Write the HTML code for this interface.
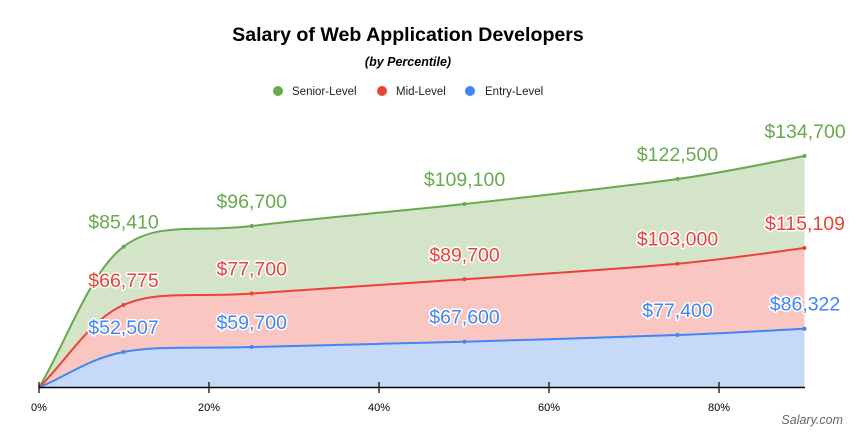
<!DOCTYPE html>
<html><head><meta charset="utf-8"><style>
body{margin:0;background:#fff;}
svg{display:block;font-family:"Liberation Sans",Arial,sans-serif;}
.lb{font-size:19.5px;text-anchor:middle;paint-order:stroke;stroke:#fff;stroke-width:3px;stroke-linejoin:round;}
</style></head><body>
<svg id="s" width="861" height="432" viewBox="0 0 861 432">
<rect width="861" height="432" fill="#fff"/>
<text x="408" y="41" font-size="19.6" font-weight="bold" text-anchor="middle" fill="#000">Salary of Web Application Developers</text>
<text x="408" y="66" font-size="12.5" font-weight="bold" font-style="italic" text-anchor="middle" fill="#000">(by Percentile)</text>
<circle cx="278" cy="91" r="5" fill="#6aa84f"/><text x="292" y="95" font-size="11.5" fill="#222">Senior-Level</text>
<circle cx="382" cy="91" r="5" fill="#ea4335"/><text x="396" y="95" font-size="11.5" fill="#222">Mid-Level</text>
<circle cx="470" cy="91" r="5" fill="#4285f4"/><text x="485" y="95" font-size="11.5" fill="#222">Entry-Level</text>
<g id="areas"></g>
<line x1="39" y1="387.5" x2="805" y2="387.5" stroke="#000" stroke-width="1.5"/>
<g stroke="#000" stroke-width="1.2">
<line x1="39" y1="382" x2="39" y2="393"/><line x1="209" y1="382" x2="209" y2="393"/><line x1="379" y1="382" x2="379" y2="393"/><line x1="549" y1="382" x2="549" y2="393"/><line x1="719" y1="382" x2="719" y2="393"/></g>
<g font-size="11" text-anchor="middle" fill="#000">
<text x="39" y="411">0%</text><text x="209" y="411">20%</text><text x="379" y="411">40%</text><text x="549" y="411">60%</text><text x="719" y="411">80%</text></g>
<text x="843" y="424" font-size="12.5" font-style="italic" text-anchor="end" fill="#666">Salary.com</text>
<g id="labels"></g>
</svg>
<script>
var X=[39,123.5,251.7,464.5,677.5,804.5];
var S=[
 {y:[387.5,246.7,226,204,179,156],c:"#6aa84f",f:"#d3e4c8",v:["$85,410","$96,700","$109,100","$122,500","$134,700"]},
 {y:[387.5,305,293.5,279.3,263.7,248],c:"#ea4335",f:"#f9c6c1",v:["$66,775","$77,700","$89,700","$103,000","$115,109"]},
 {y:[387.5,352,347,341.7,335,328.7],c:"#4285f4",f:"#c6d9f8",v:["$52,507","$59,700","$67,600","$77,400","$86,322"]}
];
function path(ys){
 var d="M"+X[0]+","+ys[0];
 for(var i=0;i<X.length-1;i++){
  var p0=[X[Math.max(i-1,0)],ys[Math.max(i-1,0)]],p1=[X[i],ys[i]],p2=[X[i+1],ys[i+1]],p3=[X[Math.min(i+2,X.length-1)],ys[Math.min(i+2,X.length-1)]];
  var t=0.16;
  var c1=[p1[0]+(p2[0]-p0[0])*t,p1[1]+(p2[1]-p0[1])*t];
  var c2=[p2[0]-(p3[0]-p1[0])*t,p2[1]-(p3[1]-p1[1])*t];
  if(i==0){c1=[p1[0]+(p2[0]-p1[0])*0.33,p1[1]+(p2[1]-p1[1])*0.33];}
  d+=" C"+c1.join(",")+" "+c2.join(",")+" "+p2.join(",");
 }
 return d;
}
var ns="http://www.w3.org/2000/svg",g=document.getElementById("areas"),L=document.getElementById("labels");
S.forEach(function(s){
 var d=path(s.y);
 var a=document.createElementNS(ns,"path");a.setAttribute("d",d+" L804.5,387.5 L39,387.5 Z");a.setAttribute("fill",s.f);g.appendChild(a);
});
S.forEach(function(s,k){
 var l=document.createElementNS(ns,"path");l.setAttribute("d",path(s.y));l.setAttribute("fill","none");l.setAttribute("stroke",s.c);l.setAttribute("stroke-width","2");g.appendChild(l);
 for(var i=1;i<6;i++){
  var c=document.createElementNS(ns,"circle");c.setAttribute("cx",X[i]);c.setAttribute("cy",s.y[i]);c.setAttribute("r","2");c.setAttribute("fill",s.c);g.appendChild(c);
  var t=document.createElementNS(ns,"text");t.setAttribute("class","lb");
  var x=X[i];if(i==5)x=805;
  t.setAttribute("x",x);t.setAttribute("y",s.y[i]-18);t.setAttribute("fill",s.c);
  if(k==0)t.setAttribute("stroke","none");
  t.textContent=s.v[i-1];L.appendChild(t);
 }
});
</script>
</body></html>
